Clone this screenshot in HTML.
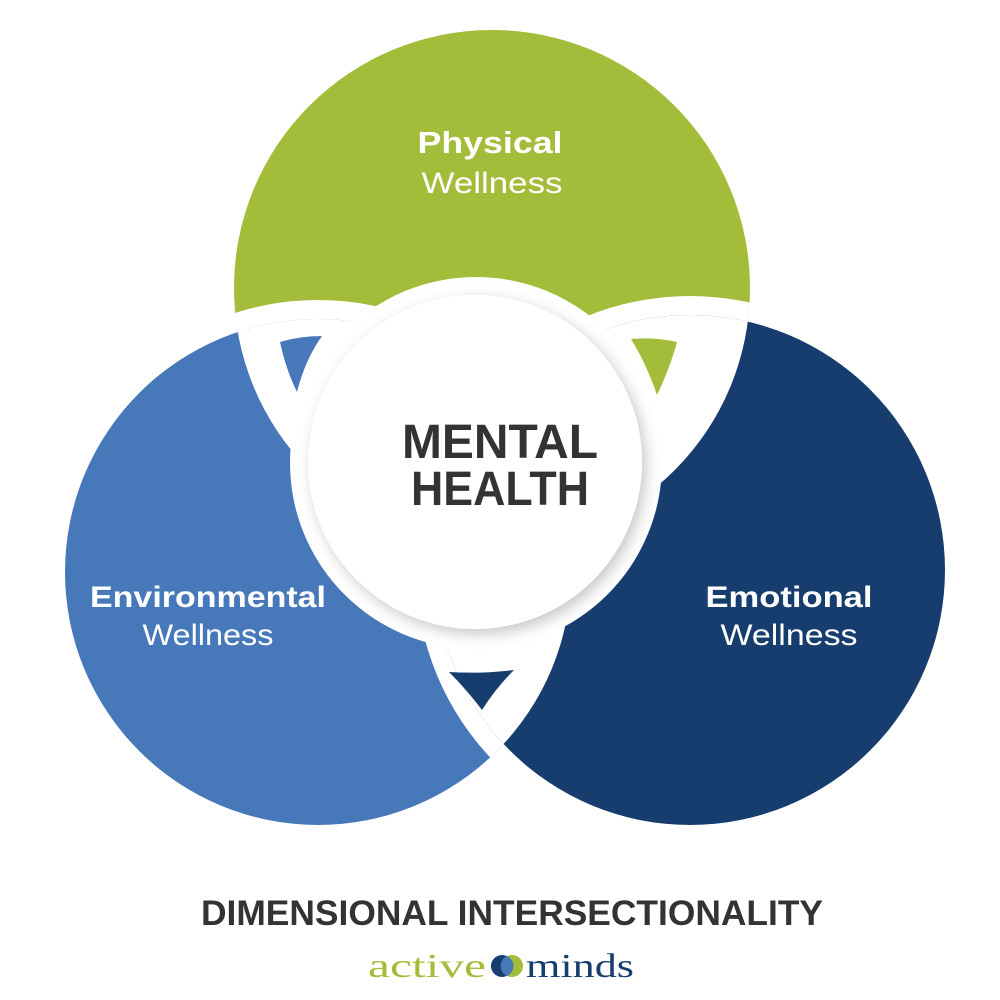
<!DOCTYPE html>
<html><head><meta charset="utf-8"><style>
html,body{margin:0;padding:0;background:#fff;width:1000px;height:1000px;overflow:hidden}
svg{display:block}
</style></head><body>
<svg width="1000" height="1000" viewBox="0 0 1000 1000" font-family="Liberation Sans, sans-serif">
<defs>
<clipPath id="cG"><circle cx="492" cy="288" r="258"/></clipPath>
<clipPath id="cB"><circle cx="318" cy="572" r="253"/></clipPath>
<filter id="sh" x="-20%" y="-20%" width="140%" height="140%"><feDropShadow dx="4" dy="5" stdDeviation="7" flood-color="#000" flood-opacity="0.22"/></filter>
</defs>
<circle cx="492" cy="288" r="258" fill="#a3bc3a"/>
<circle cx="318" cy="572" r="272" fill="#fff"/>
<circle cx="318" cy="572" r="253" fill="#4678ba"/>
<circle cx="690" cy="570" r="274" fill="#fff" clip-path="url(#cB)"/>
<circle cx="690" cy="570" r="274" fill="#fff" clip-path="url(#cG)"/>
<circle cx="690" cy="570" r="255" fill="#173d6e"/>
<!-- white lenses -->
<g clip-path="url(#cG)"><circle cx="318" cy="572" r="253" fill="#fff"/></g>
<g clip-path="url(#cG)"><circle cx="690" cy="570" r="255" fill="#fff"/></g>
<g clip-path="url(#cB)"><circle cx="690" cy="570" r="255" fill="#fff"/></g>
<!-- center white band -->
<circle cx="476" cy="463" r="186" fill="#fff"/>
<!-- triangles -->
<path d="M280 342 Q300 336 322 336 Q305 360 297 392 Q286 370 280 342Z" fill="#4678ba"/>
<path d="M631 339 Q655 337 677 342 Q670 368 657 395 Q647 365 631 339Z" fill="#a3bc3a"/>
<path d="M449 672 Q481 674 514 670 Q496 688 482 710 Q467 690 449 672Z" fill="#173d6e"/>
<circle cx="475" cy="462" r="167" fill="#fff" filter="url(#sh)"/>
<text x="500" y="458" text-anchor="middle" font-size="48" font-weight="bold" fill="#333" textLength="196" lengthAdjust="spacingAndGlyphs">MENTAL</text>
<text x="500" y="505" text-anchor="middle" font-size="48" font-weight="bold" fill="#333" textLength="178" lengthAdjust="spacingAndGlyphs">HEALTH</text>
<text x="490" y="153" text-anchor="middle" font-size="31" font-weight="bold" fill="#fff" textLength="145" lengthAdjust="spacingAndGlyphs">Physical</text>
<text x="492" y="193" text-anchor="middle" font-size="30" fill="#fff" textLength="141" lengthAdjust="spacingAndGlyphs">Wellness</text>
<text x="208" y="607" text-anchor="middle" font-size="30" font-weight="bold" fill="#fff" textLength="236" lengthAdjust="spacingAndGlyphs">Environmental</text>
<text x="208" y="645" text-anchor="middle" font-size="30" fill="#fff" textLength="131" lengthAdjust="spacingAndGlyphs">Wellness</text>
<text x="789" y="607" text-anchor="middle" font-size="30" font-weight="bold" fill="#fff" textLength="167" lengthAdjust="spacingAndGlyphs">Emotional</text>
<text x="789" y="645" text-anchor="middle" font-size="30" fill="#fff" textLength="137" lengthAdjust="spacingAndGlyphs">Wellness</text>
<text x="512" y="925" text-anchor="middle" font-size="35" font-weight="bold" fill="#333" textLength="622" lengthAdjust="spacingAndGlyphs">DIMENSIONAL INTERSECTIONALITY</text>
<text x="368" y="977" font-size="34" font-family="Liberation Serif, serif" fill="#a3bc3a" textLength="118" lengthAdjust="spacingAndGlyphs">active</text>
<circle cx="502" cy="966" r="11" fill="#173d6e"/>
<circle cx="512" cy="966" r="11" fill="#a3bc3a"/>
<path d="M507 956 a11 11 0 0 1 0 20 a11 11 0 0 1 0 -20z" fill="#4678ba"/>
<text x="526" y="977" font-size="34" font-family="Liberation Serif, serif" fill="#173d6e" textLength="108" lengthAdjust="spacingAndGlyphs">minds</text>
</svg>
</body></html>
